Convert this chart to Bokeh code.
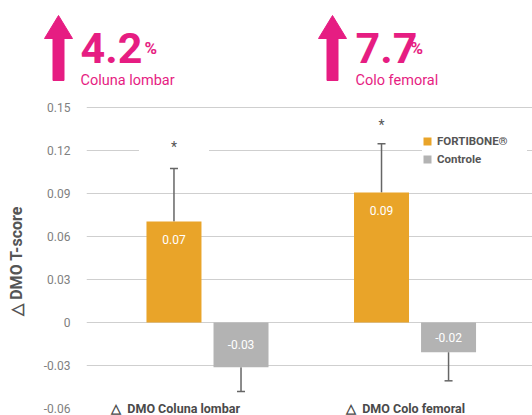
from bokeh.plotting import figure
from bokeh.models import (Range1d, FixedTicker, CustomJSTickFormatter, ColumnDataSource,
                          Whisker, TeeHead, Legend)
from bokeh.layouts import column
from bokeh.core.properties import value
from bokeh.embed import file_html
from bokeh.resources import INLINE

# ---------------- data ----------------
categories = ["\u25b3\u00a0\u00a0DMO Coluna lombar", "\u25b3\u00a0\u00a0DMO Colo femoral"]
series_names = ["FORTIBONE\u00ae", "Controle"]
fortibone = [0.0705, 0.0907]
controle = [-0.0312, -0.0207]
fortibone_labels = ["0.07", "0.09"]
controle_labels = ["-0.03", "-0.02"]
fortibone_err = [0.037, 0.034]
controle_err = [0.017, 0.020]
signif_marks = ["*", "*"]
signif_y = [0.1225, 0.1377]
y_ticks = [-0.06, -0.03, 0, 0.03, 0.06, 0.09, 0.12, 0.15]
header_values = ["4.2", "7.7"]
header_sites = ["Coluna lombar", "Colo femoral"]

# ---------------- style ----------------
ORANGE = "#E9A429"
GRAY = "#B3B3B3"
MAGENTA = "#E61D82"
ERR = "#666666"
FONT = "Roboto"

# ---------------- header ----------------
h = figure(width=532, height=100, x_range=Range1d(0, 532), y_range=Range1d(100, 0),
           output_backend="svg", toolbar_location=None,
           x_axis_location=None, y_axis_location=None,
           min_border_left=0, min_border_right=0, min_border_top=0, min_border_bottom=0)
h.frame_align = False
h.outline_line_color = None
h.xgrid.visible = False
h.ygrid.visible = False

arrow_cx = [58, 332]
tip, head_base, bottom = 15, 38, 80
head_hw, shaft_hw = 14, 5.5
axs, ays = [], []
for cx in arrow_cx:
    axs.append([cx, cx + head_hw, cx + shaft_hw, cx + shaft_hw, cx - shaft_hw, cx - shaft_hw, cx - head_hw])
    ays.append([tip, head_base, head_base, bottom, bottom, head_base, head_base])
h.patches(xs=axs, ys=ays, fill_color=MAGENTA, line_color=MAGENTA)

h.text(x=[80, 355], y=[47, 47], text=header_values, text_color=MAGENTA,
       text_font=value(FONT), text_font_style="bold", text_font_size="43px",
       text_baseline="alphabetic", text_align="left")
h.text(x=[144, 410], y=[47, 47], text=["%", "%"], text_color=MAGENTA,
       text_font=value(FONT), text_font_style="bold", text_font_size="17px",
       text_baseline="alphabetic", text_align="left")
h.text(x=[80, 355], y=[80, 80], text=header_sites, text_color=MAGENTA,
       text_font=value(FONT), text_font_size="14.5px",
       text_baseline="alphabetic", text_align="left")

# ---------------- main chart ----------------
p = figure(width=532, height=315, x_range=Range1d(-0.583, 1.566), y_range=Range1d(-0.0649, 0.1507),
           output_backend="svg", toolbar_location=None, x_axis_location=None,
           min_border_left=86, min_border_right=0, min_border_top=6, min_border_bottom=0)
p.frame_align = False
p.outline_line_color = None
p.xgrid.visible = False
p.ygrid.grid_line_color = "#CFCFCF"
p.ygrid.grid_line_width = 1
p.ygrid.ticker = FixedTicker(ticks=[t for t in y_ticks if t > y_ticks[0]])

ax = p.yaxis[0]
ax.ticker = FixedTicker(ticks=y_ticks)
ax.formatter = CustomJSTickFormatter(code="return tick === 0 ? '0' : tick.toFixed(2);")
ax.axis_line_color = None
ax.major_tick_line_color = None
ax.minor_tick_line_color = None
ax.major_label_text_font = FONT
ax.major_label_text_font_size = "12px"
ax.major_label_text_color = "#808080"
ax.major_label_standoff = 10
ax.axis_label = "\u25b3 DMO T-score"
ax.axis_label_text_font = FONT
ax.axis_label_text_font_size = "16px"
ax.axis_label_text_font_style = "bold"
ax.axis_label_text_color = "#555555"
ax.axis_label_standoff = 15

xs = list(range(len(categories)))
off = 0.1615
bw = 0.265

src_f = ColumnDataSource(dict(
    x=[i - off for i in xs], top=fortibone, label=fortibone_labels,
    err=[v + e for v, e in zip(fortibone, fortibone_err)],
    ly=[v - 0.0125 for v in fortibone]))
src_c = ColumnDataSource(dict(
    x=[i + off for i in xs], top=controle, label=controle_labels,
    err=[v - e for v, e in zip(controle, controle_err)],
    ly=[v / 2 for v in controle]))

r1 = p.vbar(x="x", top="top", bottom=0, width=bw, fill_color=ORANGE, line_color=None, source=src_f)
r2 = p.vbar(x="x", top="top", bottom=0, width=bw, fill_color=GRAY, line_color=None, source=src_c)

p.add_layout(Whisker(source=src_f, base="x", lower="top", upper="err",
                     upper_head=TeeHead(size=8, line_color=ERR, line_width=1.5), lower_head=None,
                     line_color=ERR, line_width=1.5))
p.add_layout(Whisker(source=src_c, base="x", lower="err", upper="top",
                     lower_head=TeeHead(size=8, line_color=ERR, line_width=1.5), upper_head=None,
                     line_color=ERR, line_width=1.5))

for src in (src_f, src_c):
    p.text(x="x", y="ly", text="label", source=src, text_color="white",
           text_font=value(FONT), text_font_size="12px",
           text_align="center", text_baseline="middle")

p.text(x=[i - off for i in xs], y=signif_y, text=signif_marks, text_color="#555555",
       text_font=value(FONT), text_font_size="14px", text_align="center", text_baseline="middle",
       background_fill_color="white", padding=dict(left=32, right=32, top=3, bottom=3))

label_x = [-0.154, 0.954]
p.text(x=label_x, y=[-0.06, -0.06], text=categories, text_color="#4A4A4A",
       text_font=value(FONT), text_font_size="12.5px", text_font_style="bold",
       text_align="center", text_baseline="middle")

legend = Legend(items=[(series_names[0], [r1]), (series_names[1], [r2])],
                location=(336, 249), border_line_color=None,
                background_fill_color="white", background_fill_alpha=1.0,
                glyph_width=10, glyph_height=10, label_height=10, label_width=90,
                spacing=4, padding=11, margin=0, label_standoff=5,
                label_text_font=FONT, label_text_font_size="11.5px",
                label_text_font_style="bold", label_text_color="#555555")
p.add_layout(legend)

layout = column(h, p)
open("out.html", "w").write(file_html(layout, INLINE))
